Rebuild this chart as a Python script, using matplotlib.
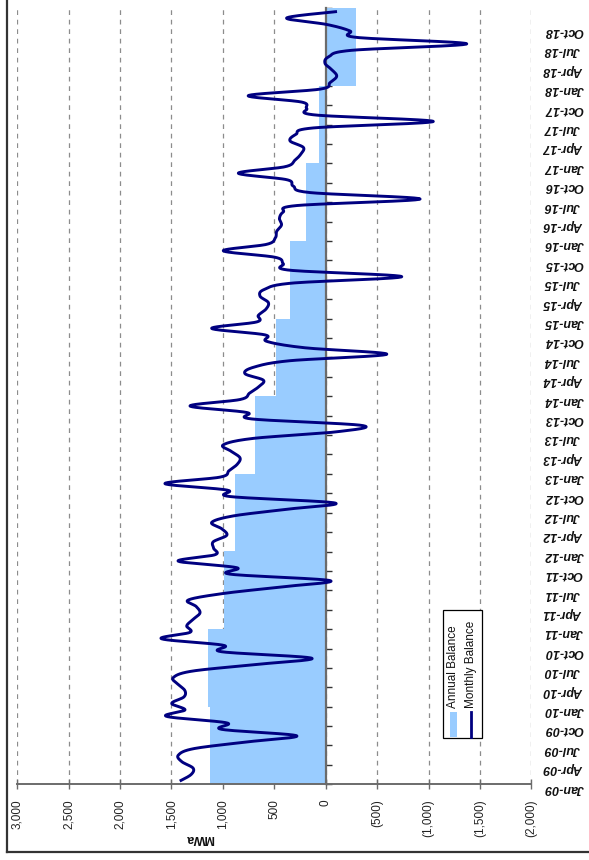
import numpy as np
import matplotlib
matplotlib.use("Agg")
import matplotlib.pyplot as plt
from matplotlib.patches import Rectangle
from matplotlib.lines import Line2D
from matplotlib.transforms import blended_transform_factory

plt.rcParams['font.family'] = ['Liberation Sans', 'DejaVu Sans']

# ---- data -------------------------------------------------------------
years = [2009, 2010, 2011, 2012, 2013, 2014, 2015, 2016, 2017, 2018]
annual_balance = [1130, 1145, 990, 880, 685, 484, 347, 190, 62, -292]

month_names = ['Jan', 'Feb', 'Mar', 'Apr', 'May', 'Jun',
               'Jul', 'Aug', 'Sep', 'Oct', 'Nov', 'Dec']

monthly_2009 = [1420, 1310, 1290, 1400, 1434, 1288, 800, 282, 1012, 963, 1547, 1369]
monthly_2010 = [1498, 1380, 1370, 1440, 1483, 1300, 700, 136, 1012, 996, 1596, 1320]
monthly_2011 = [1352, 1290, 1223, 1260, 1337, 1000, 450, -42, 931, 866, 1434, 1077]
monthly_2012 = [1090, 1094, 963, 1010, 1109, 900, 400, -90, 931, 960, 1564, 1028]
monthly_2013 = [940, 860, 834, 920, 996, 700, -100, -350, 720, 769, 1320, 834]
monthly_2014 = [740, 650, 607, 785, 700, 350, -594, 200, 574, 591, 1109, 671]
monthly_2015 = [656, 580, 558, 639, 600, 330, -740, 350, 413, 493, 996, 574]
monthly_2016 = [490, 477, 430, 450, 413, 280, -918, 150, 315, 380, 850, 396]
monthly_2017 = [300, 240, 218, 347, 290, 120, -1047, 100, 185, 234, 753, 55]
monthly_2018 = [-42, -107, -60, 7, -30, -250, -1372, -300, -236, -10, 380, -110]

monthly_balance = (monthly_2009 + monthly_2010 + monthly_2011 + monthly_2012 +
                   monthly_2013 + monthly_2014 + monthly_2015 + monthly_2016 +
                   monthly_2017 + monthly_2018)

value_ticks = [3000, 2500, 2000, 1500, 1000, 500, 0, -500, -1000, -1500, -2000]


def fmt_value(v):
    return f"{v:,}" if v >= 0 else f"({-v:,})"


def smooth(t, v, n=24):
    """Catmull-Rom curve through the points (spreadsheet style smoothing)."""
    t = np.asarray(t, float)
    v = np.asarray(v, float)
    P = np.column_stack([t, v])
    P = np.vstack([P[0], P, P[-1]])
    out = []
    s = np.linspace(0, 1, n, endpoint=False)[:, None]
    for k in range(1, len(P) - 2):
        p0, p1, p2, p3 = P[k - 1], P[k], P[k + 1], P[k + 2]
        seg = 0.5 * ((2 * p1) + (-p0 + p2) * s +
                     (2 * p0 - 5 * p1 + 4 * p2 - p3) * s ** 2 +
                     (-p0 + 3 * p1 - 3 * p2 + p3) * s ** 3)
        out.append(seg)
    out.append(P[-2][None, :])
    out = np.vstack(out)
    return out[:, 0], out[:, 1]


# ---- figure -----------------------------------------------------------
W, H = 589, 860
fig = plt.figure(figsize=(W / 100, H / 100), dpi=100)
fig.patch.set_facecolor('white')


def fx(px):
    return px / W


def fy(py):
    return 1 - py / H


left_px, right_px, top_px, bottom_px = 17.3, 531.3, 8.3, 784.3
ax = fig.add_axes([fx(left_px), fy(bottom_px),
                   fx(right_px) - fx(left_px), fy(top_px) - fy(bottom_px)])

n_months = len(monthly_balance)
month_idx = np.arange(n_months)

axis_grey = '#6b6b6b'

# annual balance: one block per calendar year
year_centers = np.arange(len(years)) * 12 + 5.5
ax.barh(year_centers, annual_balance, height=12, left=0,
        color='#99CCFF', linewidth=0, zorder=2)

# monthly balance, smoothed line
ts, vs = smooth(month_idx, monthly_balance)
ax.plot(vs, ts, color='#000080', lw=2.1, zorder=4, solid_capstyle='butt')

ax.set_xlim(3000, -2000)
ax.set_ylim(-0.5, n_months - 0.5)

# value axis along the bottom
ax.set_xticks(value_ticks)
ax.set_xticklabels([fmt_value(v) for v in value_ticks], rotation=90,
                   fontsize=8.5, color='#222222')
ax.tick_params(axis='x', direction='inout', length=7, width=1,
               color=axis_grey, pad=7.5)
for lbl in ax.get_xticklabels():
    lbl.set_va('top')
ax.xaxis.grid(True, linestyle=(0, (3.8, 3.8)), color='#8c8c8c', lw=0.9,
              zorder=1)

# category axis sitting on the zero line
for side in ('top', 'right'):
    ax.spines[side].set_visible(False)
ax.spines['left'].set_position(('data', 0))
ax.spines['left'].set_color(axis_grey)
ax.spines['left'].set_linewidth(1.6)
ax.spines['left'].set_zorder(3)
ax.spines['bottom'].set_color(axis_grey)
ax.spines['bottom'].set_linewidth(1.4)
ax.spines['bottom'].set_zorder(3)

quarter_edges = np.arange(-0.5, n_months, 3)
ax.set_yticks(quarter_edges)
ax.set_yticklabels([])
ax.tick_params(axis='y', direction='in', length=4, width=1, color='#333333')

# quarter labels along the right edge
tr = blended_transform_factory(ax.transAxes, ax.transData)
x_lab = (544.0 - left_px) / (right_px - left_px)
for k in range(0, n_months, 3):
    label = f"{month_names[k % 12]}-{str(years[k // 12])[2:]}"
    ax.text(x_lab, k - 1.0, label, transform=tr, rotation=180,
            ha='left', va='center', fontsize=9, fontweight='bold',
            fontstyle='italic', color='#111111')

# axis title
fig.text(fx(200), fy(838), 'MWa', rotation=180, ha='center', va='center',
         fontsize=9, fontweight='bold', color='#111111')

# legend box
lg_l, lg_r, lg_t, lg_b = 443, 482, 610, 738
fig.patches.append(Rectangle((fx(lg_l), fy(lg_b)), fx(lg_r) - fx(lg_l),
                             fy(lg_t) - fy(lg_b), transform=fig.transFigure,
                             facecolor='white', edgecolor='black', lw=0.9,
                             zorder=5))
fig.patches.append(Rectangle((fx(450.5), fy(737)), fx(7), fy(712) - fy(737),
                             transform=fig.transFigure, facecolor='#99CCFF',
                             edgecolor='none', zorder=6))
fig.lines.append(Line2D([fx(471), fx(471)], [fy(712), fy(737)],
                        transform=fig.transFigure, color='#000080', lw=2.0,
                        zorder=6))
fig.text(fx(453.5), fy(708), 'Annual Balance', rotation=90, ha='center',
         va='bottom', fontsize=8.5, color='#111111', zorder=7)
fig.text(fx(471.5), fy(708), 'Monthly Balance', rotation=90, ha='center',
         va='bottom', fontsize=8.5, color='#111111', zorder=7)

# outer frame (left and bottom edges)
fig.lines.append(Line2D([fx(7), fx(7)], [fy(0), fy(852)],
                        transform=fig.transFigure, color='#333333', lw=1.6))
fig.lines.append(Line2D([fx(7), fx(589)], [fy(852), fy(852)],
                        transform=fig.transFigure, color='#333333', lw=1.6))

fig.savefig('out.png', dpi=100, facecolor='white')
